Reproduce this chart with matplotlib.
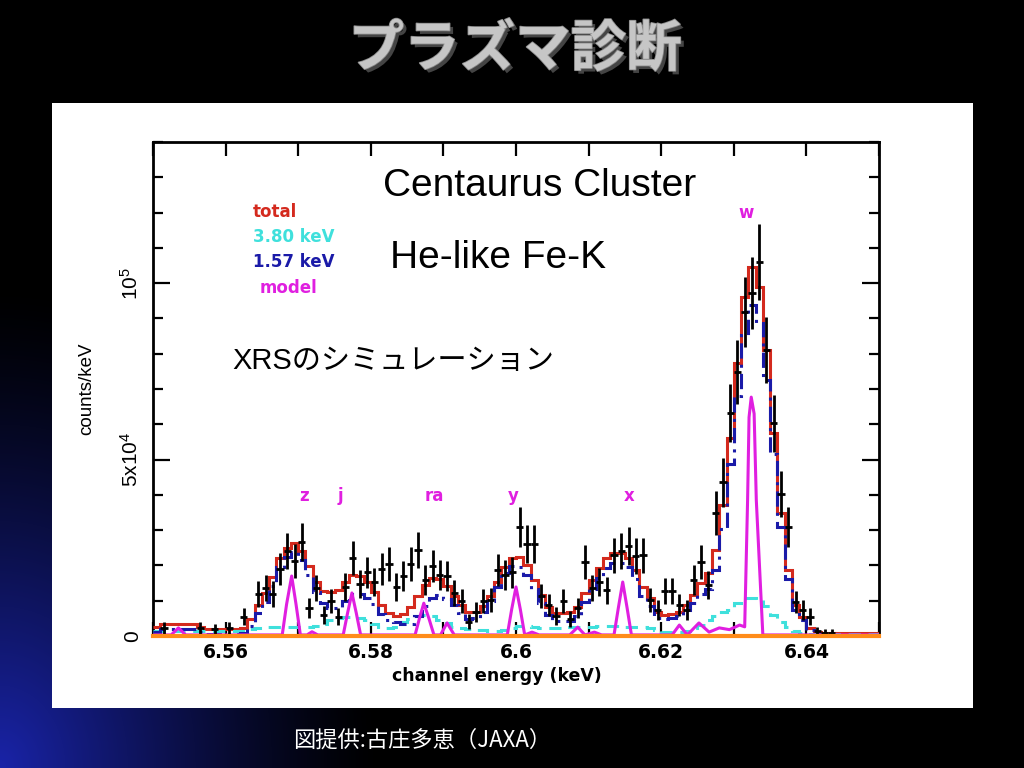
import numpy as np
import matplotlib
matplotlib.use('Agg')
import matplotlib.pyplot as plt
from matplotlib.patches import Rectangle
from matplotlib.ticker import MultipleLocator
import matplotlib.patheffects as pe

# ---------------- data ----------------
energy_lo = 6.55
bin_width = 0.001
n_bins = 100

total_counts = [2600, 3400, 3400, 3400, 3400, 3400, 2600, 2000, 2000, 2000,
                2000, 2000, 2300, 4800, 8800, 12200, 16700, 22100, 24900, 26300,
                24100, 19800, 15300, 12700, 12500, 13000, 15300, 17300, 17000, 15300,
                12500, 8800, 6500, 5700, 6200, 8200, 11300, 14400, 16400, 16100,
                14200, 11300, 8800, 6800, 6800, 8500, 11300, 15300, 19500, 22100,
                22400, 20100, 15900, 11600, 8200, 6500, 6500, 6800, 8200, 12200,
                15900, 19300, 22100, 23500, 23500, 22100, 18700, 13900, 10800, 6800,
                5900, 6200, 6800, 8800, 11600, 15000, 17800, 24400, 37100, 56100,
                77300, 96000, 104500, 98900, 81000, 57500, 34800, 18700, 8800, 5400,
                2300, 1100, 900, 900, 900, 900, 900, 900, 900, 900]

comp_380 = [1400, 1400, 1400, 1400, 1400, 1400, 1400, 1400, 1400, 1400,
            1400, 1400, 1400, 2000, 2300, 2500, 2500, 2500, 2500, 2500,
            2500, 2500, 2800, 3400, 4500, 5100, 5400, 5400, 5100, 4500,
            3400, 2600, 2300, 2600, 4000, 4800, 5700, 5900, 5700, 4500,
            3700, 2600, 2300, 2000, 1700, 1700, 1400, 1400, 1700, 2300,
            2800, 2800, 2600, 2300, 2300, 2300, 2300, 2600, 2600, 2600,
            2600, 2800, 2800, 2800, 2800, 2600, 2600, 2600, 2300, 1700,
            1100, 1100, 1100, 1400, 2300, 3100, 4500, 5700, 6800, 7400,
            9300, 10800, 10800, 10200, 8500, 5900, 4000, 2600, 1400, 900,
            600, 600, 600, 600, 600, 600, 600, 600, 600, 600]

comp_157 = [1200, 2000, 2000, 2000, 2000, 2000, 1200, 600, 600, 600,
            600, 600, 900, 2800, 6500, 9700, 14200, 19600, 22400, 23800,
            21600, 17300, 12500, 9300, 8000, 7900, 9900, 11900, 11900, 10800,
            9100, 6200, 4500, 4000, 3500, 3400, 5600, 8500, 10700, 11600,
            10500, 8700, 6500, 4800, 5100, 6800, 9900, 13900, 17800, 19800,
            19600, 17300, 13300, 9300, 5900, 4200, 4200, 4200, 5600, 9600,
            13300, 16500, 19300, 20700, 20700, 19500, 16100, 11300, 8500, 5100,
            4800, 5100, 5700, 7400, 9300, 11900, 13300, 18700, 30300, 48700,
            68000, 85200, 93700, 88700, 72500, 51600, 30800, 16100, 7400, 4500,
            1700, 500, 300, 300, 300, 300, 300, 300, 300, 300]

data_counts = [None, 2300, None, None, None, None, 2300, None, 2000, None,
               2300, None, 5400, None, 11900, 13600, 11900, 19000, 24100, 21200,
               26600, 7900, 13600, 5900, 9900, 5400, 13900, 22100, 14700, 18100,
               15300, 19000, 20400, 13900, 17000, 20400, 24400, 15900, 19800, 17300,
               17000, 12200, 9900, 4000, 6800, 9900, 10200, 18700, 17300, 18100,
               30900, 26100, 26100, 11300, 8800, 5700, 9900, 4800, 7900, 21000,
               13600, 15300, 13000, 22900, 24100, 25500, 22700, 22900, 10200, 7400,
               12700, 12700, 8800, 7400, 15900, 21000, 14400, 34800, 43600, 63200,
               74800, 91800, 97200, 106000, 81000, 60300, 40200, 30900, 9600, 7400,
               5400, 1400, 900, 900, None, None, None, None, None, None]

data_err = [None, 1600, None, None, None, None, 1600, None, 1500, None,
            1600, None, 2400, None, 3600, 3800, 3600, 4500, 5100, 4800,
            5400, 2900, 3800, 2500, 3300, 2400, 3900, 4900, 4000, 4400,
            4100, 4500, 4700, 3900, 4300, 4700, 5200, 4200, 4600, 4300,
            4300, 3600, 3300, 2100, 2700, 3300, 3300, 4500, 4300, 4400,
            5800, 5300, 5300, 3500, 3100, 2500, 3300, 2300, 2900, 4800,
            3800, 4100, 3800, 5000, 5100, 5300, 5000, 5000, 3300, 2800,
            3700, 3700, 3100, 2800, 4200, 4800, 4000, 6200, 6900, 8300,
            9000, 10000, 10300, 10700, 9400, 8100, 6600, 5800, 3200, 2800,
            2400, 1200, 1000, 1000, None, None, None, None, None, None]

model_energy = [6.5500, 6.5525, 6.5535, 6.5545, 6.5678, 6.5684, 6.5691, 6.5697, 6.5703,
                6.5712, 6.5719, 6.5727, 6.5762, 6.5768, 6.5774, 6.5780, 6.5786,
                6.5861, 6.5867, 6.5873, 6.5880, 6.5887, 6.5896, 6.5905, 6.5915,
                6.5988, 6.5994, 6.6000, 6.6006, 6.6012, 6.6022, 6.6032,
                6.6074, 6.6085, 6.6095, 6.6108, 6.6118,
                6.6135, 6.6141, 6.6147, 6.6153, 6.6159,
                6.6215, 6.6225, 6.6236, 6.6252, 6.6266, 6.6280, 6.6294, 6.6308, 6.6315,
                6.6319, 6.6321, 6.6324, 6.6328, 6.6331, 6.6340, 6.6500]
model_counts = [300, 300, 2300, 300, 300, 9000, 17000, 9000, 300,
                300, 1200, 300, 300, 6500, 12200, 6500, 300,
                300, 5000, 9300, 5000, 300, 300, 3700, 300,
                300, 7500, 13900, 7500, 300, 1100, 300,
                300, 2500, 300, 1100, 300,
                300, 8000, 15300, 8000, 300,
                300, 3100, 300, 3700, 1100, 2300, 1800, 3100, 2600,
                38500, 62000, 67700, 63000, 38500, 300, 300]

line_labels = ['z', 'j', 'ra', 'y', 'x', 'w']
line_energy = [6.5708, 6.5758, 6.5888, 6.5996, 6.6156, 6.6317]
line_label_y = [39700, 39700, 39700, 39700, 39700, 119800]

legend_labels = ['total', '3.80 keV', '1.57 keV', 'model']

xtick_vals = [6.56, 6.58, 6.60, 6.62, 6.64]
xtick_labels = ['6.56', '6.58', '6.6', '6.62', '6.64']
ytick_vals = [0, 50000, 100000]
ytick_labels = ['0', '5x10$^4$', '10$^5$']

# ---------------- style ----------------
c_total = '#d42a1e'
c_380 = '#3fe0dc'
c_157 = '#1a1aa8'
c_model = '#e01fe0'
c_zero = '#ff8c1a'

plt.rcParams['mathtext.fontset'] = 'custom'
plt.rcParams['mathtext.rm'] = 'Liberation Sans'
plt.rcParams['mathtext.it'] = 'Liberation Sans:italic'
plt.rcParams['mathtext.bf'] = 'Liberation Sans:bold'

W, H = 1024, 768
fig = plt.figure(figsize=(10.24, 7.68), dpi=100)
fig.patch.set_facecolor('black')


def fx(px):
    return px / W


def fy(py):
    return 1 - py / H


# background with blue glow bottom-left
bg = fig.add_axes([0, 0, 1, 1])
bg.axis('off')
yy, xx = np.mgrid[0:H, 0:W]
r = np.sqrt((xx / 380.0) ** 2 + ((H - 1 - yy) / 480.0) ** 2)
t = np.clip(1 - r, 0, 1) ** 1.3
img = np.zeros((H, W, 3))
img[..., 0] = 0.10 * t
img[..., 1] = 0.14 * t
img[..., 2] = 0.66 * t
bg.imshow(img, extent=[0, W, H, 0], aspect='auto', interpolation='bilinear')
bg.set_xlim(0, W)
bg.set_ylim(H, 0)

# white panel
fig.add_artist(Rectangle((fx(52), fy(708)), 921 / W, 605 / H,
                         transform=fig.transFigure, facecolor='white',
                         edgecolor='none', zorder=1))

ax = fig.add_axes([fx(153), fy(636), 726 / W, 494 / H], zorder=2)
ax.set_facecolor('white')

edges = energy_lo + bin_width * np.arange(n_bins + 1)
centers = 0.5 * (edges[:-1] + edges[1:])

ax.stairs(total_counts, edges, color=c_total, lw=2.2, baseline=None, zorder=3)
ax.stairs(comp_380, edges, color=c_380, lw=2.2, baseline=None,
          linestyle=(0, (4, 2.5)), zorder=3)
ax.stairs(comp_157, edges, color=c_157, lw=2.2, baseline=None,
          linestyle=(0, (5, 2, 1, 2)), zorder=4)
ax.plot(model_energy, model_counts, color=c_model, lw=2.2, zorder=5)

dc = np.array([np.nan if v is None else v for v in data_counts], dtype=float)
de = np.array([np.nan if v is None else v for v in data_err], dtype=float)
ax.errorbar(centers, dc, yerr=de, xerr=bin_width / 2, fmt='none',
            ecolor='black', elinewidth=2, capsize=0, zorder=6)

ax.axhline(0, color=c_zero, lw=3, zorder=7, clip_on=False)

ax.set_xlim(6.55, 6.65)
ax.set_ylim(0, 140000)
ax.set_xticks(xtick_vals)
ax.set_xticklabels(xtick_labels, fontsize=13.5, fontweight='bold',
                   family='DejaVu Sans')
ax.xaxis.set_minor_locator(MultipleLocator(0.01))
ax.set_yticks(ytick_vals)
ax.set_yticklabels(ytick_labels, rotation=90, va='center', fontsize=15,
                   family='Liberation Sans')
ax.yaxis.set_minor_locator(MultipleLocator(10000))
ax.tick_params(which='both', direction='in', top=True, right=True,
               width=1.6, color='black')
ax.tick_params(axis='x', which='both', length=10, pad=5)
ax.tick_params(axis='y', which='major', length=12, pad=8)
ax.tick_params(axis='y', which='minor', length=7)
for s in ax.spines.values():
    s.set_linewidth(2)

# peak labels
for lab, e, yv in zip(line_labels, line_energy, line_label_y):
    ax.text(e, yv, lab, color=c_model, fontsize=12, fontweight='bold',
            family='DejaVu Sans', ha='center', va='center', zorder=8)

# legend-like texts
leg_colors = [c_total, c_380, c_157, c_model]
leg_x = [253, 253, 253, 260]
leg_y = [212, 237, 262, 288]
for lab, col, lx, ly in zip(legend_labels, leg_colors, leg_x, leg_y):
    fig.text(fx(lx), fy(ly), lab, color=col, fontsize=12, fontweight='bold',
             family='DejaVu Sans', ha='left', va='center', zorder=10)

# axis labels
fig.text(fx(87), fy(389), 'counts/keV', rotation=90, fontsize=13.5,
         family='Liberation Sans', ha='center', va='center', zorder=10)
fig.text(fx(497), fy(676), 'channel energy (keV)', fontsize=12.5,
         fontweight='bold', family='DejaVu Sans', ha='center', va='center',
         zorder=10)

# annotations inside the plot
fig.text(fx(540), fy(186), 'Centaurus Cluster', fontsize=28,
         family='Liberation Sans', ha='center', va='center', zorder=10)
fig.text(fx(498), fy(258), 'He-like Fe-K', fontsize=28,
         family='Liberation Sans', ha='center', va='center', zorder=10)
fig.text(fx(232), fy(361), 'XRSのシミュレーション', fontsize=21,
         family=['Liberation Sans', 'Noto Sans CJK JP'], ha='left',
         va='center', zorder=10)

# title (single text with a drop shadow)
fig.text(fx(515), fy(50), 'プラズマ診断', fontsize=40, fontweight='bold',
         family=['Noto Sans CJK JP'], color='#c6c6c6', ha='center',
         va='center', zorder=11,
         path_effects=[pe.withSimplePatchShadow(offset=(2.5, -2.5),
                                                shadow_rgbFace='#444444',
                                                alpha=1.0),
                       pe.withStroke(linewidth=1.2, foreground='#8a8a8a')])

# footer
fig.text(fx(422), fy(740), '図提供:古庄多恵（JAXA）', fontsize=16,
         family=['Noto Sans CJK JP', 'DejaVu Sans'], color='white',
         ha='center', va='center', zorder=10)

fig.savefig('out.png', dpi=100, facecolor='black')
